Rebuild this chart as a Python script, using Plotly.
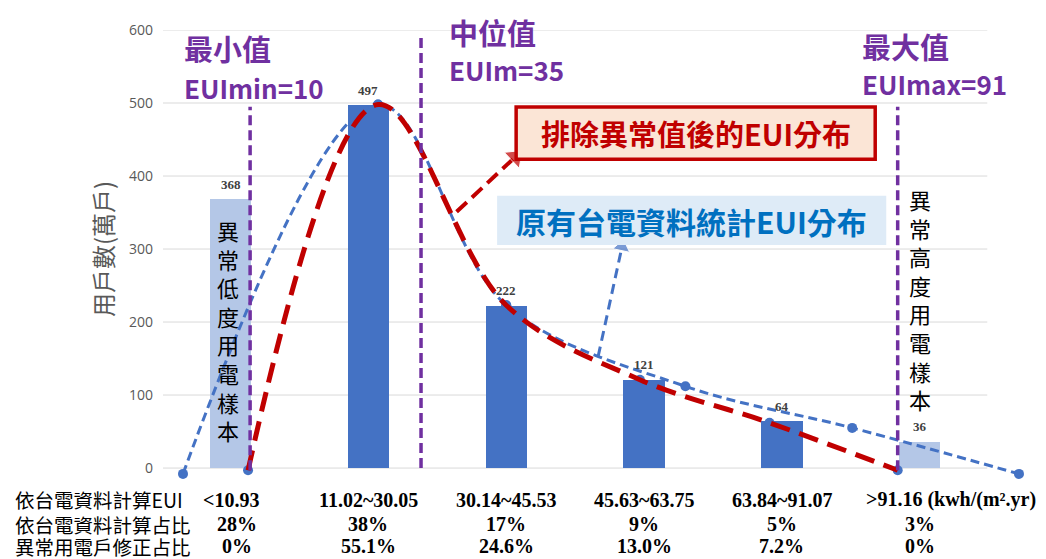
import plotly.graph_objects as go

# ---------------- data ----------------
categories = ["<10.93", "11.02~30.05", "30.14~45.53", "45.63~63.75", "63.84~91.07", ">91.16"]
eui_unit = " (kwh/(m².yr)"
households = [368, 497, 222, 121, 64, 36]
is_outlier = [True, False, False, False, False, True]
share_original = ["28%", "38%", "17%", "9%", "5%", "3%"]
share_corrected = ["0%", "55.1%", "24.6%", "13.0%", "7.2%", "0%"]
row_labels = ["依台電資料計算EUI", "依台電資料計算占比", "異常用電戶修正占比"]
outlier_labels = ["異常低度用電樣本", "異常高度用電樣本"]

# original Taipower EUI distribution curve (blue)
orig_x = [-0.345, 1.07, 2.0, 3.30, 4.51, 5.72]
orig_y = [-8, 498, 223, 112, 55, -8]
# distribution after removing outliers (red)
clean_x = [0.127, 1.07, 2.0, 2.97, 3.91, 4.84]
clean_y = [-3, 498, 223, 121, 62, -3]

mark_titles = ["最小值", "中位值", "最大值"]
mark_labels = ["EUImin=10", "EUIm=35", "EUImax=91"]
mark_x = [0.142, 1.382, 4.84]
mark_top = [495, 596, 495]
mark_bottom = [-3, 0, -3]
mark_text_x = [-0.33, 1.593, 4.59]

red_title = "排除異常值後的EUI分布"
blue_title = "原有台電資料統計EUI分布"
red_arrow_x = [1.64, 2.065]
red_arrow_y = [351, 426]
blue_arrow_x = [2.667, 2.84]
blue_arrow_y = [153, 303]

yticks = [0, 100, 200, 300, 400, 500, 600]

# ---------------- style ----------------
DARK = "#4472c4"
LIGHT = "#b4c7e7"
PURPLE = "#7030a0"
RED = "#c00000"
CJK = "Noto Sans CJK TC"
SERIF = "Liberation Serif"
Y0, Y1 = -15, 600

xpos = list(range(len(categories)))
fig = go.Figure()

fig.add_trace(go.Bar(
    x=xpos, y=households, width=0.3,
    marker=dict(color=[LIGHT if o else DARK for o in is_outlier], line=dict(width=0)),
    hoverinfo="skip", showlegend=False,
))

fig.add_trace(go.Scatter(
    x=orig_x, y=orig_y, mode="lines+markers",
    line=dict(color=DARK, width=3, dash="9px,5px", shape="spline", smoothing=1.0),
    marker=dict(color=DARK, size=10),
    cliponaxis=False, showlegend=False, hoverinfo="skip",
))
fig.add_trace(go.Scatter(
    x=clean_x, y=clean_y, mode="markers",
    marker=dict(color=DARK, size=10),
    cliponaxis=False, showlegend=False, hoverinfo="skip",
))
fig.add_trace(go.Scatter(
    x=clean_x, y=clean_y, mode="lines",
    line=dict(color=RED, width=5, dash="20px,10px", shape="spline", smoothing=1.0),
    cliponaxis=False, showlegend=False, hoverinfo="skip",
))

# arrows
fig.add_trace(go.Scatter(
    x=red_arrow_x, y=red_arrow_y, mode="lines+markers",
    line=dict(color=RED, width=4, dash="14px,7px"),
    marker=dict(symbol=["circle", "triangle-up"], size=[0, 19], color=RED, angleref="previous"),
    cliponaxis=False, showlegend=False, hoverinfo="skip",
))
fig.add_trace(go.Scatter(
    x=blue_arrow_x, y=blue_arrow_y, mode="lines+markers",
    line=dict(color=DARK, width=3, dash="10px,6px"),
    marker=dict(symbol=["circle", "triangle-up"], size=[0, 15], color=DARK, angleref="previous"),
    cliponaxis=False, showlegend=False, hoverinfo="skip",
))

shapes = []
for v in yticks:
    shapes.append(dict(type="line", xref="x", yref="y", x0=-0.49, x1=5.49, y0=v, y1=v,
                       line=dict(color="#d9d9d9", width=1), layer="below"))
for x, y0, y1 in zip(mark_x, mark_bottom, mark_top):
    shapes.append(dict(type="line", xref="x", yref="y", x0=x, x1=x, y0=y0, y1=y1,
                       line=dict(color=PURPLE, width=3.5, dash="10px,5px"), layer="above"))
# callout boxes
shapes.append(dict(type="rect", xref="x", yref="y", x0=2.072, x1=4.677, y0=423, y1=494.6,
                   fillcolor="#fbe5d6", line=dict(color=RED, width=3.5), layer="above"))
shapes.append(dict(type="rect", xref="x", yref="y", x0=1.934, x1=4.757, y0=305.4, y1=373,
                   fillcolor="#deebf7", line=dict(width=0), layer="above"))

ann = []
# box texts
ann.append(dict(x=3.374, y=458.8, xref="x", yref="y", text="<b>" + red_title + "</b>", showarrow=False,
                font=dict(family=CJK, size=29, color=RED)))
ann.append(dict(x=3.345, y=339, xref="x", yref="y", text="<b>" + blue_title + "</b>", showarrow=False,
                font=dict(family=CJK, size=30, color="#0070c0")))
# purple markers text
title_y = [575, 596.6, 578.4]
label_y = [521.6, 546, 527]
for t, l, tx, ty, ly in zip(mark_titles, mark_labels, mark_text_x, title_y, label_y):
    ann.append(dict(x=tx, y=ty, xref="x", yref="y", text="<b>" + t + "</b>", showarrow=False,
                    xanchor="left", yanchor="middle", xshift=-3,
                    font=dict(family=CJK, size=29, color=PURPLE)))
    ann.append(dict(x=tx, y=ly, xref="x", yref="y", text="<b>" + l + "</b>", showarrow=False,
                    xanchor="left", yanchor="middle", xshift=-3,
                    font=dict(family=CJK, size=26, color=PURPLE)))
# bar value labels
for i, v in enumerate(households):
    ann.append(dict(x=i, y=v, xref="x", yref="y", text="<b>%d</b>" % v, showarrow=False,
                    yanchor="middle", yshift=15, font=dict(family=SERIF, size=13, color="#404040")))
# outlier vertical labels
ann.append(dict(x=-0.02, y=188.5, xref="x", yref="y", text="<br>".join(outlier_labels[0]),
                showarrow=False, font=dict(family=CJK, size=22, color="#000000")))
ann.append(dict(x=5.0, y=231, xref="x", yref="y", text="<br>".join(outlier_labels[1]),
                showarrow=False, font=dict(family=CJK, size=22, color="#000000")))


def ypaper(v):
    return (v - Y0) / (Y1 - Y0)


# y-axis title
ann.append(dict(x=0, y=ypaper(300), xref="paper", yref="paper", text="用戶數(萬戶)",
                textangle=-90, showarrow=False, xanchor="center", yanchor="middle", xshift=-61,
                font=dict(family=CJK, size=24, color="#595959")))

# bottom table
row_y = [-43.2, -77, -107]
for lbl, ry in zip(row_labels, row_y):
    ann.append(dict(x=0, y=ypaper(ry), xref="paper", yref="paper", text=lbl, showarrow=False,
                    xanchor="left", yanchor="middle", xshift=-150,
                    font=dict(family=CJK, size=19.5, color="#000000")))
rows = [categories, share_original, share_corrected]
for r, (vals, ry) in enumerate(zip(rows, row_y)):
    for i, v in enumerate(vals):
        if r == 0 and i == len(vals) - 1:
            ann.append(dict(x=i, y=ypaper(ry), xref="x", yref="paper", text="<b>" + v + eui_unit + "</b>",
                            showarrow=False, xanchor="left", yanchor="middle", xshift=-56,
                            font=dict(family=SERIF, size=20, color="#000000")))
        else:
            ann.append(dict(x=i, y=ypaper(ry), xref="x", yref="paper", text="<b>" + v + "</b>",
                            showarrow=False, xanchor="center", yanchor="middle",
                            xshift=6 if i == 0 and r > 0 else 0,
                            font=dict(family=SERIF, size=20, color="#000000")))

# page body has an 8px margin: figure placed at (8, 8)
fig.update_layout(
    width=1038, height=551,
    margin=dict(l=155, r=16, t=16, b=80),
    paper_bgcolor="white", plot_bgcolor="white",
    shapes=shapes, annotations=ann,
    xaxis=dict(range=[-0.49, 5.8], showgrid=False, zeroline=False, showticklabels=False,
               showline=False, ticks=""),
    yaxis=dict(range=[Y0, Y1], showgrid=False, zeroline=False, tickvals=yticks,
               tickfont=dict(family="Open Sans", size=14, color="#595959"),
               ticks="", ticklabelstandoff=9, showline=False),
    bargap=0,
)

fig.write_html("out.html")
